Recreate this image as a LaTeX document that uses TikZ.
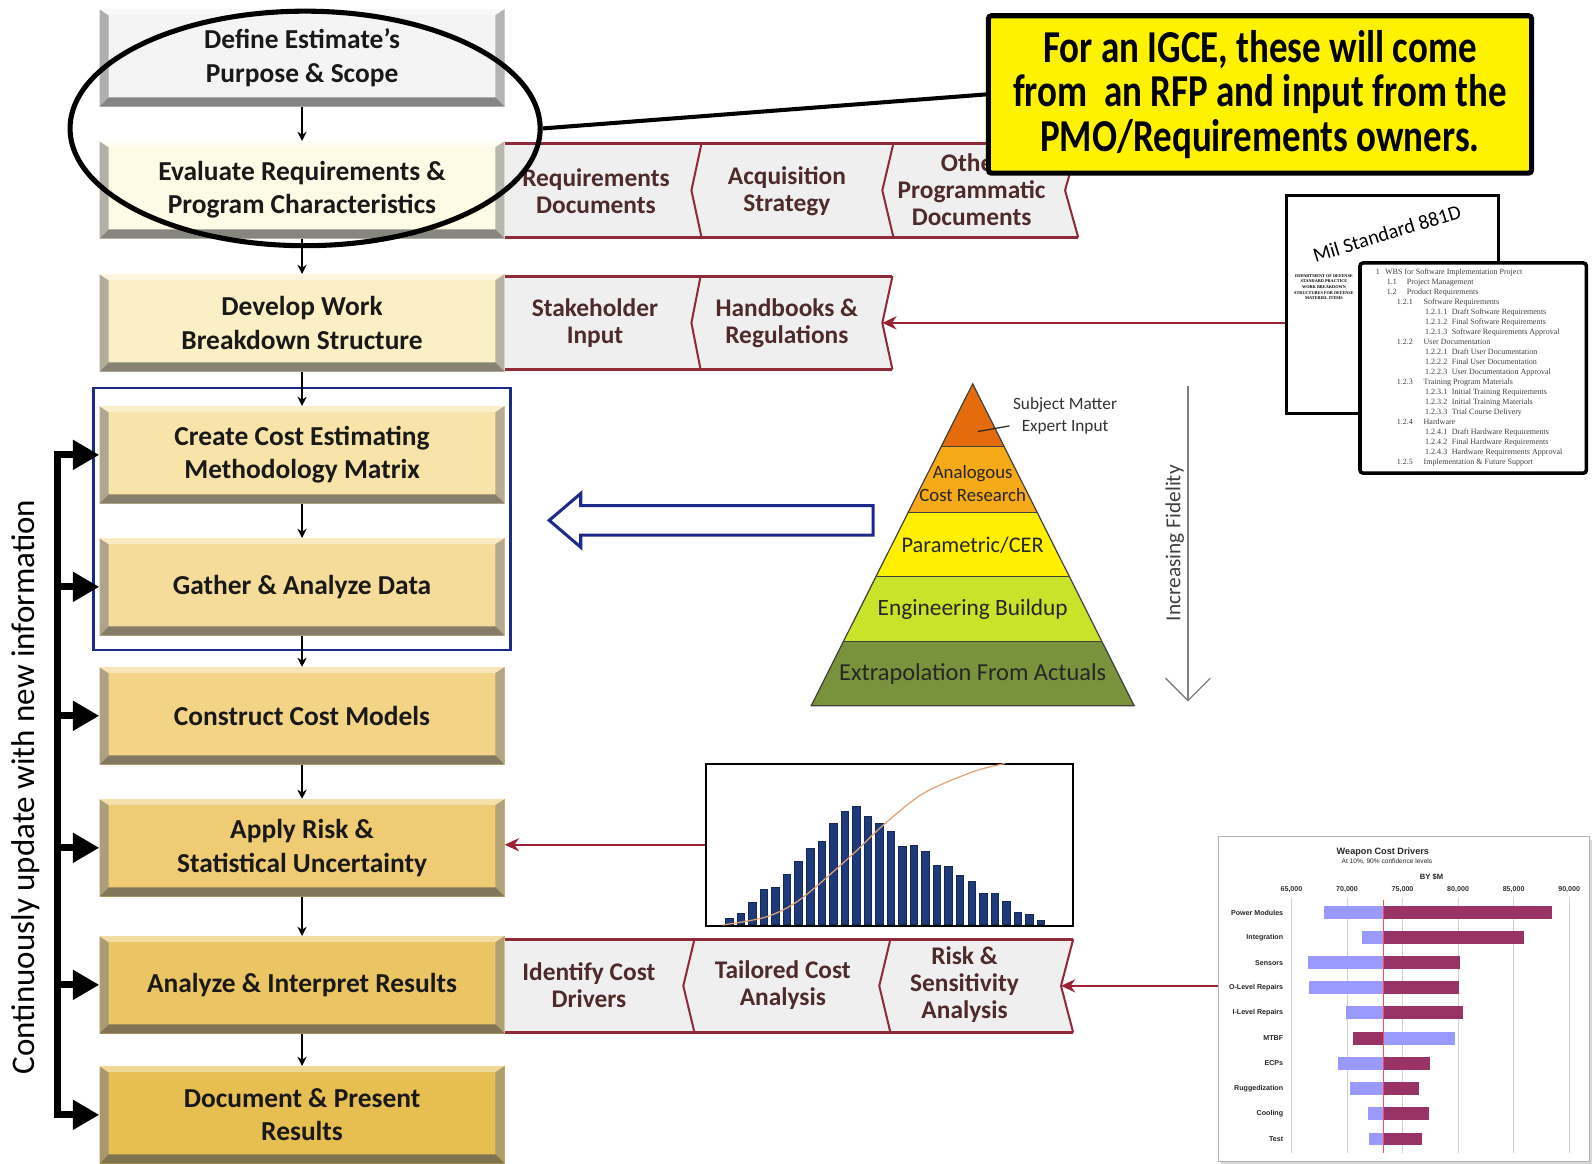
\documentclass[tikz,border=0pt]{standalone}
\usepackage{fontspec}
\setmainfont{Carlito}
\newfontfamily\calloutfam[FakeStretch=0.81]{Carlito}
\newfontfamily\docserif{Liberation Serif}
\newfontfamily\chartsans{Liberation Sans}
\usetikzlibrary{arrows.meta,shapes.geometric,calc}
\definecolor{cA}{HTML}{F4F4F4}
\definecolor{cB}{HTML}{FDFAE6}
\definecolor{cC}{HTML}{FBEFC6}
\definecolor{cD}{HTML}{F8E3A9}
\definecolor{cE}{HTML}{F6DC9A}
\definecolor{cF}{HTML}{F3D487}
\definecolor{cG}{HTML}{EFCC74}
\definecolor{cH}{HTML}{EBC563}
\definecolor{cI}{HTML}{E7BE52}
\definecolor{chevfill}{HTML}{EFEFEF}
\definecolor{chevline}{HTML}{8E2A3A}
\definecolor{chevtxt}{HTML}{4F2A2A}
\definecolor{navyb}{HTML}{1C2A8C}
\definecolor{arrred}{HTML}{9B2335}
\definecolor{histbar}{HTML}{1F3A7A}
\definecolor{cdfline}{HTML}{E2A273}
\definecolor{lav}{HTML}{9999FF}
\definecolor{plum}{HTML}{993366}
\definecolor{pyrA}{HTML}{E46C0A}
\definecolor{pyrB}{HTML}{F6AA17}
\definecolor{pyrC}{HTML}{FFF000}
\definecolor{pyrD}{HTML}{C9E22A}
\definecolor{pyrE}{HTML}{78933C}
\newcommand\boxfont{\fontsize{27}{33}\selectfont\bfseries}
\newcommand\chevfont{\fontsize{25}{26.5}\selectfont\bfseries}
\newcommand\wbsl[3]{\hspace*{#1pt}\makebox[#2pt][l]{#3}}
\begin{document}
\begin{tikzpicture}[x=1pt,y=-1pt,
  mainbox/.style={fill=#1, minimum width=399pt, minimum height=96pt, inner sep=0pt,
    align=center, font=\boxfont, text=black!90,
    path picture={
      \fill[#1!40!gray] (path picture bounding box.north west) -- (path picture bounding box.south west)
        -- ([shift={(9pt,9pt)}]path picture bounding box.south west) -- ([shift={(9pt,-6pt)}]path picture bounding box.north west) -- cycle;
      \fill[#1!60!white] (path picture bounding box.north west) -- (path picture bounding box.north east)
        -- ([shift={(-9pt,-6pt)}]path picture bounding box.north east) -- ([shift={(9pt,-6pt)}]path picture bounding box.north west) -- cycle;
      \fill[#1!45!gray] (path picture bounding box.north east) -- (path picture bounding box.south east)
        -- ([shift={(-9pt,9pt)}]path picture bounding box.south east) -- ([shift={(-9pt,-6pt)}]path picture bounding box.north east) -- cycle;
      \fill[#1!55!black!60!gray] (path picture bounding box.south west) -- (path picture bounding box.south east)
        -- ([shift={(-9pt,9pt)}]path picture bounding box.south east) -- ([shift={(9pt,9pt)}]path picture bounding box.south west) -- cycle;
    }},
  flow/.style={-{Stealth[length=9pt,width=9pt]}, line width=1.5pt, black},
  chevtext/.style={font=\chevfont, text=chevtxt, align=center, inner sep=0pt},
  chevedge/.style={chevline, line width=3pt},
  chevdiv/.style={chevline, line width=2pt, line join=miter},
  fb/.style={line width=7pt, black, line join=miter},
  redarrow/.style={arrred, line width=2pt, -{Stealth[length=14pt,width=13pt]}},
  pyr/.style={draw=black!75, line width=1.2pt},
  ticklab/.style={font=\chartsans\bfseries\fontsize{7}{8}\selectfont, text=black!80},
  rowlab/.style={font=\chartsans\bfseries\fontsize{7}{8}\selectfont, anchor=east, text=black!85, inner sep=0pt}
]
\useasboundingbox (0,0) rectangle (1568,1146);
\fill[white] (0,0) rectangle (1568,1146);

% blue grouping frame
\node[draw=navyb, line width=2.5pt, minimum width=411pt, minimum height=258pt, inner sep=0pt] (bluebox) at (297.5,511) {};

% main process boxes
\node[mainbox=cA] (define)    at (297.5,57)   {Define Estimate’s\\Purpose \& Scope};
\node[mainbox=cB] (evaluate)  at (297.5,187)  {Evaluate Requirements \&\\Program Characteristics};
\node[mainbox=cC] (wbs)       at (297.5,318)  {Develop Work\\Breakdown Structure};
\node[mainbox=cD] (create)    at (297.5,448)  {Create Cost Estimating\\Methodology Matrix};
\node[mainbox=cE] (gather)    at (297.5,578)  {Gather \& Analyze Data};
\node[mainbox=cF] (construct) at (297.5,705)  {Construct Cost Models};
\node[mainbox=cG] (apply)     at (297.5,835)  {Apply Risk \&\\Statistical Uncertainty};
\node[mainbox=cH] (analyze)   at (297.5,970)  {Analyze \& Interpret Results};
\node[mainbox=cI] (document)  at (297.5,1098) {Document \& Present\\Results};

\draw[flow] (define) -- (evaluate);
\draw[flow] (evaluate) -- (wbs);
\draw[flow] (wbs) -- (create);
\draw[flow] (create) -- (gather);
\draw[flow] (gather) -- (construct);
\draw[flow] (construct) -- (apply);
\draw[flow] (apply) -- (analyze);
\draw[flow] (analyze) -- (document);

% chevron row 1
\fill[chevfill] (497,141) -- (1062,141) -- (1049,187.5) -- (1062,234) -- (497,234) -- cycle;
\draw[chevedge] (497,141) -- (1062,141);
\draw[chevedge] (497,234) -- (1062,234);
\draw[chevdiv] (691,141) -- (681,187.5) -- (691,234);
\draw[chevdiv] (880,141) -- (869,187.5) -- (880,234);
\draw[chevdiv] (1062,141) -- (1049,187.5) -- (1062,234);
\node[chevtext] (reqdoc) at (587,188) {Requirements\\Documents};
\node[chevtext] (acq) at (775,188) {Acquisition\\Strategy};
\node[chevtext] (otherdoc) at (957,187) {Other\\Programmatic\\Documents};

% chevron row 2
\fill[chevfill] (497,272) -- (879,272) -- (869,318) -- (879,364) -- (497,364) -- cycle;
\draw[chevedge] (497,272) -- (879,272);
\draw[chevedge] (497,364) -- (879,364);
\draw[chevdiv] (690,272) -- (681,318) -- (690,364);
\draw[chevdiv] (879,272) -- (869,318) -- (879,364);
\node[chevtext] (stake) at (586,318) {Stakeholder\\Input};
\node[chevtext] (hand) at (775,318) {Handbooks \&\\Regulations};
\coordinate (handend) at (869,318);

% chevron row 3
\fill[chevfill] (497,925) -- (1057,925) -- (1045,971) -- (1057,1017) -- (497,1017) -- cycle;
\draw[chevedge] (497,925) -- (1057,925);
\draw[chevedge] (497,1017) -- (1057,1017);
\draw[chevdiv] (684,925) -- (673,971) -- (684,1017);
\draw[chevdiv] (877,925) -- (866,971) -- (877,1017);
\draw[chevdiv] (1057,925) -- (1045,971) -- (1057,1017);
\node[chevtext] (idcost) at (580,970) {Identify Cost\\Drivers};
\node[chevtext] (tailor) at (771,970) {Tailored Cost\\Analysis};
\node[chevtext] (risksens) at (950,970) {Risk \&\\Sensitivity\\Analysis};
\coordinate (riskend) at (1045,971);

% feedback bracket
\draw[fb, {Triangle[length=26pt,width=28pt]}-{Triangle[length=26pt,width=28pt]}]
  (create.west) -- ++(-41pt,0) |- (document.west);
\foreach \n in {gather,construct,apply,analyze}
  \draw[fb, -{Triangle[length=26pt,width=28pt]}] ([xshift=-44.5pt]\n.west) -- (\n.west);
\node[rotate=90, font=\fontsize{32.5}{36}\selectfont] (cont) at (25,775) {Continuously update with new information};

% hollow blue arrow
\draw[navyb, line width=3pt, fill=white, line join=miter]
  (860,498) -- (572,498) -- (572,486) -- (541,512.5) -- (572,539) -- (572,527) -- (860,527) -- cycle;

% pyramid
\fill[pyrA] (958,378) -- (989.1,440) -- (926.9,440) -- cycle;
\fill[pyrB] (926.9,440) -- (989.1,440) -- (1021.7,505) -- (894.3,505) -- cycle;
\fill[pyrC] (894.3,505) -- (1021.7,505) -- (1053.3,568) -- (862.7,568) -- cycle;
\fill[pyrD] (862.7,568) -- (1053.3,568) -- (1085.4,632) -- (830.6,632) -- cycle;
\fill[pyrE] (830.6,632) -- (1085.4,632) -- (1117,695) -- (799,695) -- cycle;
\draw[pyr] (958,378) -- (1117,695) -- (799,695) -- cycle;
\draw[pyr] (926.9,440) -- (989.1,440);
\draw[pyr] (894.3,505) -- (1021.7,505);
\draw[pyr] (862.7,568) -- (1053.3,568);
\draw[pyr] (830.6,632) -- (1085.4,632);
\node[font=\fontsize{17}{21}\selectfont, align=center, text=black!80] (sme) at (1049,409.5) {Subject Matter\\Expert Input};
\coordinate (smept) at (963,425);
\draw[black!85, line width=1.2pt] (smept) -- ([yshift=-10pt]sme.west);
\node[font=\fontsize{18.5}{23}\selectfont, align=center, text=black!85] (analog) at (958,476) {Analogous\\Cost Research};
\node[font=\fontsize{22}{24}\selectfont, text=black!85] (param) at (958,537) {Parametric/CER};
\node[font=\fontsize{23}{24}\selectfont, text=black!85] (eng) at (958,600) {Engineering Buildup};
\node[font=\fontsize{24}{25}\selectfont, text=black!85] (extra) at (958,664) {Extrapolation From Actuals};

% increasing fidelity
\node[rotate=90, font=\fontsize{21}{24}\selectfont, text=black!75] (fid) at (1157,535) {Increasing Fidelity};
\coordinate (fidtop) at (1170,380);
\coordinate (fidbot) at (1170,690);
\draw[black!50, line width=1.3pt] (fidtop) -- (fidbot);
\draw[black!50, line width=1.3pt] (1148,668) -- (fidbot) -- (1192,668);

% documents
\node[draw, line width=3pt, fill=white, minimum width=209pt, minimum height=214pt, inner sep=0pt] (docback) at (1371.5,300) {};
\node[rotate=17, font=\fontsize{20}{20}\selectfont, inner sep=1pt] (milstd) at (1366,230) {Mil Standard 881D};
\node[anchor=north, align=center, inner sep=0pt, font=\docserif\bfseries\fontsize{4.2}{5.6}\selectfont] (cover) at (1304,270)
  {DEPARTMENT OF DEFENSE\\STANDARD PRACTICE\\WORK BREAKDOWN\\STRUCTURES FOR DEFENSE\\MATERIEL ITEMS};
\draw[redarrow] (docback.west |- handend) -- (handend);
\node[draw, line width=3.5pt, fill=white, rounded corners=3pt, minimum width=223pt, minimum height=207pt, inner sep=0pt] (docfront) at (1451,362.5) {};
\node[anchor=north west, align=left, inner sep=0pt, font=\docserif\fontsize{7.9}{9.83}\selectfont, text=black!75] (wbslist) at (1355,265) {%
\wbsl{0}{9}{1}WBS for Software Implementation Project\\
\wbsl{10.8}{19.7}{1.1}Project Management\\
\wbsl{10.8}{19.7}{1.2}Product Requirements\\
\wbsl{20.6}{26.4}{1.2.1}Software Requirements\\
\wbsl{48.5}{26.3}{1.2.1.1}Draft Software Requirements\\
\wbsl{48.5}{26.3}{1.2.1.2}Final Software Requirements\\
\wbsl{48.5}{26.3}{1.2.1.3}Software Requirements Approval\\
\wbsl{20.6}{26.4}{1.2.2}User Documentation\\
\wbsl{48.5}{26.3}{1.2.2.1}Draft User Documentation\\
\wbsl{48.5}{26.3}{1.2.2.2}Final User Documentation\\
\wbsl{48.5}{26.3}{1.2.2.3}User Documentation Approval\\
\wbsl{20.6}{26.4}{1.2.3}Training Program Materials\\
\wbsl{48.5}{26.3}{1.2.3.1}Initial Training Requirements\\
\wbsl{48.5}{26.3}{1.2.3.2}Initial Training Materials\\
\wbsl{48.5}{26.3}{1.2.3.3}Trial Course Delivery\\
\wbsl{20.6}{26.4}{1.2.4}Hardware\\
\wbsl{48.5}{26.3}{1.2.4.1}Draft Hardware Requirements\\
\wbsl{48.5}{26.3}{1.2.4.2}Final Hardware Requirements\\
\wbsl{48.5}{26.3}{1.2.4.3}Hardware Requirements Approval\\
\wbsl{20.6}{26.4}{1.2.5}Implementation \& Future Support};

% histogram
\node[draw, line width=2pt, fill=white, minimum width=362pt, minimum height=160pt, inner sep=0pt] (hist) at (876,832) {};
\foreach \i/\t in {0/904.5,1/899,2/888.7,3/875.9,4/874.3,5/861.2,6/848.7,7/835.5,8/829,9/811,10/799.5,11/794.5,12/804.4,13/811,14/819.1,15/833.9,16/832.3,17/838.8,18/852,19/853.6,20/861.8,21/868.4,22/879.9,23/879.9,24/888.1,25/898,26/900.6,27/906}
  \filldraw[fill=histbar, draw=histbar!70!black, line width=0.5pt] ({718.3+11.36*\i-3.7},910) rectangle ({718.3+11.36*\i+3.7},\t);
\draw[cdfline, line width=1.2pt] plot[smooth] coordinates {(712,911) (755,903) (788,886) (837,844) (870,812.6) (909.4,781.4) (958.6,760) (990,752)};
\draw[redarrow] (hist.west) -- (hist.west -| apply.east);

% tornado chart
\fill[black!15] (1203,827) rectangle (1568,1146);
\node[draw=black!30, line width=1pt, fill=white, minimum width=366pt, minimum height=320pt, inner sep=0pt] (tornado) at (1383,984) {};
\node[font=\chartsans\bfseries\fontsize{9}{10}\selectfont, text=black!85] (ttitle) at (1362,839) {Weapon Cost Drivers};
\node[font=\chartsans\fontsize{6.5}{7}\selectfont, text=black!85] (tsub) at (1366,849) {At 10\%, 90\% confidence levels};
\node[font=\chartsans\bfseries\fontsize{7.5}{8}\selectfont, text=black!85] (tunit) at (1410,864) {BY \$M};
\foreach \gx/\lab [count=\k] in {1272/{65,000},1326.7/{70,000},1381.4/{75,000},1436.1/{80,000},1490.8/{85,000},1545.5/{90,000}}{
  \draw[black!18, line width=0.7pt] (\gx,884) -- (\gx,1136);
  \node[ticklab] (tick\k) at (\gx,876.5) {\lab};
}
\fill[lav]  (1304,892.7)   rectangle (1362.5,905.3);  \fill[plum] (1362.5,892.7) rectangle (1528.9,905.3);
\fill[lav]  (1341.1,917)   rectangle (1362.5,929.5);  \fill[plum] (1362.5,917) rectangle (1501.4,929.5);
\fill[lav]  (1288.6,942)   rectangle (1362.5,954.5);  \fill[plum] (1362.5,942) rectangle (1438,954.5);
\fill[lav]  (1289.6,966.6) rectangle (1362.5,979.1);  \fill[plum] (1362.5,966.6) rectangle (1436.7,979.1);
\fill[lav]  (1325.7,991.2) rectangle (1362.5,1003.7); \fill[plum] (1362.5,991.2) rectangle (1441.3,1003.7);
\fill[plum] (1333,1016.5)  rectangle (1363.5,1029);   \fill[lav]  (1363.5,1016.5) rectangle (1433.4,1029);
\fill[lav]  (1318.2,1041.1) rectangle (1362.5,1053.6); \fill[plum] (1362.5,1041.1) rectangle (1408.5,1053.6);
\fill[lav]  (1329.6,1065.7) rectangle (1362.5,1078.2); \fill[plum] (1362.5,1065.7) rectangle (1397.3,1078.2);
\fill[lav]  (1347,1090.3)  rectangle (1362.5,1102.8); \fill[plum] (1362.5,1090.3) rectangle (1407.5,1102.8);
\fill[lav]  (1348.7,1115.6) rectangle (1362.5,1128.1); \fill[plum] (1362.5,1115.6) rectangle (1400.3,1128.1);
\draw[red!70, line width=0.5pt] (1362.5,886) -- (1362.5,1136);
\foreach \ry/\lab [count=\k] in {899/Power Modules,923.2/Integration,948.2/Sensors,972.8/O-Level Repairs,997.4/I-Level Repairs,1022.7/MTBF,1047.3/ECPs,1071.9/Ruggedization,1096.5/Cooling,1121.8/Test}
  \node[rowlab] (row\k) at (1264,\ry) {\lab};
\draw[redarrow] (tornado.west |- riskend) -- (riskend);

% highlight ellipse and callout
\node[draw, ellipse, line width=5pt, minimum width=463pt, minimum height=231pt, inner sep=0pt] (oval) at (300.5,126.5) {};
\node[draw, fill=yellow, line width=5pt, rounded corners=3pt, minimum width=535pt, minimum height=155pt, inner sep=0pt,
  align=center, font=\calloutfam\fontsize{45}{44}\selectfont\bfseries] (callout) at (1241,93)
  {For an IGCE, these will come\\from\ \ an RFP and input from the\\PMO/Requirements owners.};
\draw[line width=4pt] (oval.east) -- (callout.west);
\end{tikzpicture}
\end{document}
